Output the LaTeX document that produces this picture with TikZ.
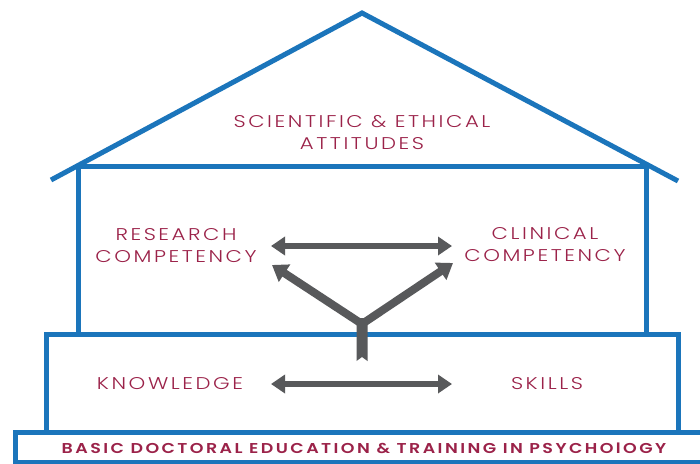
\documentclass[tikz,border=0pt]{standalone}
\usepackage{fontspec}
\setmainfont{Poppins Light}[FakeStretch=1.25,LetterSpace=15]
\newfontfamily\boldf{Poppins SemiBold}[FakeStretch=1.22,LetterSpace=17]
\usetikzlibrary{arrows.meta}
\definecolor{hblue}{HTML}{1B75BB}
\definecolor{hred}{HTML}{9B2249}
\definecolor{hgray}{HTML}{58595B}
\begin{document}
\begin{tikzpicture}[x=1pt,y=-1pt,
 wall/.style={draw=hblue,line width=5pt,line join=miter},
 lbl/.style={text=hred,font=\fontsize{17}{22}\selectfont,align=center,inner sep=0pt},
 garrow/.style={draw=hgray,line width=6pt,{Triangle[length=14pt,width=18pt]}-{Triangle[length=14pt,width=18pt]}},
 barrow/.style={draw=hgray,line width=8pt,-{Triangle[length=15pt,width=20pt]}}
]
\useasboundingbox (0,0) rectangle (700,463);
\fill[white] (0,0) rectangle (700,463);
% roof
\draw[wall] (51,180) -- (362,13) -- (678,181);
\draw[wall] (78,166) -- (646,166);
% upper walls
\draw[wall] (78,166) -- (78,334);
\draw[wall] (646,166) -- (646,334);
% middle box
\draw[wall] (46.5,432) -- (46.5,334) -- (678,334) -- (678,432);
% band
\draw[wall] (720,432) -- (15,432) -- (15,462) -- (720,462);
% labels
\node[lbl] (sci) at (362,133) {SCIENTIFIC \& ETHICAL\\ATTITUDES};
\node[lbl] (res) at (176,246) {RESEARCH\\COMPETENCY};
\node[lbl] (cli) at (545,245) {CLINICAL\\COMPETENCY};
\node[lbl] (kno) at (170,384) {KNOWLEDGE};
\node[lbl] (ski) at (547,384) {SKILLS};
\node[text=hred,font=\boldf\fontsize{14.3}{16}\selectfont,inner sep=0pt] (basic) at (364,448) {BASIC DOCTORAL EDUCATION \& TRAINING IN PSYCHOlOGY};
% arrows
\coordinate (t1) at (271,246);
\coordinate (t2) at (452,246);
\coordinate (b1) at (271,384);
\coordinate (b2) at (452,384);
\coordinate (j) at (362,324);
\coordinate (yl) at (272,265);
\coordinate (yr) at (453,263);
\draw[garrow] (t1) -- (t2);
\draw[garrow] (b1) -- (b2);
\fill[hgray] (356.5,318) -- (367.5,318) -- (367.5,361) -- (362,357) -- (356.5,361) -- cycle;
\draw[barrow] (j) -- (yl);
\draw[barrow] (j) -- (yr);
\end{tikzpicture}
\end{document}
